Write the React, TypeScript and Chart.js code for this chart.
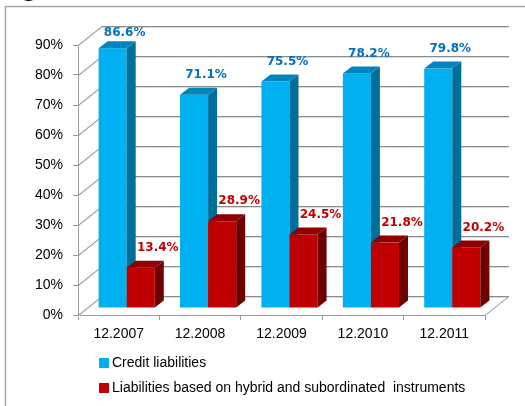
import React, { useEffect, useRef } from "react";
import { Chart, registerables } from "chart.js";

Chart.register(...registerables);

const categories = ["12.2007", "12.2008", "12.2009", "12.2010", "12.2011"];
const creditLiabilities = [0.866, 0.711, 0.755, 0.782, 0.798];
const hybridLiabilities = [0.134, 0.289, 0.245, 0.218, 0.202];
const seriesNames = [
  "Credit liabilities",
  "Liabilities based on hybrid and subordinated  instruments",
];
const yTicks = [0, 0.1, 0.2, 0.3, 0.4, 0.5, 0.6, 0.7, 0.8, 0.9];

const FRONT = ["#00B0F0", "#C00000"];
const SIDE = ["#006E9A", "#6E0000"];
const TOP = ["#0086BC", "#900000"];
const LABEL = ["#0070C0", "#C00000"];

const WALL_DX = 24;
const WALL_DY = -19;
const BAR_SHIFT_X = 8;
const BAR_SHIFT_Y = -7;
const BAR_DX = 9;
const BAR_DY = -7;
const TEXT_FONT = "'Liberation Sans', Arial, sans-serif";

function seg(ctx: any, x1: number, y1: number, x2: number, y2: number, color: string) {
  ctx.strokeStyle = color;
  ctx.lineWidth = 1;
  ctx.beginPath();
  ctx.moveTo(x1, y1);
  ctx.lineTo(x2, y2);
  ctx.stroke();
}

function drawWalls(chart: any) {
  const ctx = chart.ctx;
  const xs = chart.scales.x;
  const ys = chart.scales.y;
  const left = Number(xs.left);
  const right = Number(xs.right);
  ctx.save();
  for (let k = 0; k < yTicks.length; k++) {
    const y = Math.round(Number(ys.getPixelForValue(yTicks[k])));
    const by = y + WALL_DY;
    // back wall line (filled rectangles)
    ctx.fillStyle = "#DADADA";
    ctx.fillRect(left + WALL_DX, by + 1, right - left, 1);
    ctx.fillStyle = "#8C8C8C";
    ctx.fillRect(left + WALL_DX, by, right - left, 1);
    // side wall diagonal
    seg(ctx, left, y + 1.5, left + WALL_DX, by + 1.5, "#DADADA");
    seg(ctx, left, y + 0.5, left + WALL_DX, by + 0.5, "#8C8C8C");
  }
  const y0 = Math.round(Number(ys.getPixelForValue(0)));
  seg(ctx, right, y0 + 0.5, right + WALL_DX, y0 + WALL_DY + 0.5, "#8C8C8C");
  ctx.restore();
}

function drawBars(chart: any) {
  const ctx = chart.ctx;
  [0, 1].forEach((i) => {
    const meta = chart.getDatasetMeta(i);
    ctx.save();
    ctx.translate(BAR_SHIFT_X, BAR_SHIFT_Y);
    meta.data.forEach((el: any) => {
      const p = el.getProps(["x", "y", "base", "width"], true);
      const l = p.x - p.width / 2;
      const r = p.x + p.width / 2;
      const t = p.y;
      const b = p.base;
      ctx.fillStyle = FRONT[i];
      ctx.fillRect(l, t, r - l, b - t);
      ctx.fillStyle = SIDE[i];
      ctx.beginPath();
      ctx.moveTo(r, b);
      ctx.lineTo(r + BAR_DX, b + BAR_DY);
      ctx.lineTo(r + BAR_DX, t + BAR_DY);
      ctx.lineTo(r, t);
      ctx.closePath();
      ctx.fill();
      ctx.fillStyle = TOP[i];
      ctx.beginPath();
      ctx.moveTo(l, t);
      ctx.lineTo(l + BAR_DX, t + BAR_DY);
      ctx.lineTo(r + BAR_DX, t + BAR_DY);
      ctx.lineTo(r, t);
      ctx.closePath();
      ctx.fill();
    });
    ctx.restore();
  });
}

function drawLabelsAndLegend(chart: any) {
  const ctx = chart.ctx;
  ctx.save();
  ctx.font = "bold 12px 'DejaVu Sans', sans-serif";
  ctx.textAlign = "center";
  ctx.textBaseline = "middle";
  const top = chart.chartArea.top;
  [0, 1].forEach((i) => {
    const meta = chart.getDatasetMeta(i);
    const data = chart.data.datasets[i].data;
    meta.data.forEach((el: any, j: number) => {
      const p = el.getProps(["x", "y"], true);
      const x = p.x + BAR_SHIFT_X + (i === 0 ? 12 : 17);
      let y = p.y + BAR_SHIFT_Y - 20;
      if (y < top - 12) y = top - 12;
      ctx.fillStyle = LABEL[i];
      ctx.fillText((data[j] * 100).toFixed(1) + "%", x, y);
    });
  });
  ctx.font = "14px " + TEXT_FONT;
  ctx.textAlign = "left";
  ctx.textBaseline = "middle";
  const lx = chart.chartArea.left + 21;
  const ly = chart.chartArea.bottom + 48;
  seriesNames.forEach((name, i) => {
    const cy = ly + i * 25;
    ctx.fillStyle = FRONT[i];
    ctx.fillRect(lx, cy - 5, 10, 10);
    ctx.fillStyle = "#000";
    ctx.fillText(name, lx + 13, cy);
  });
  ctx.strokeStyle = "#A6A6A6";
  ctx.lineWidth = 1.5;
  ctx.beginPath();
  ctx.moveTo(5.5, chart.height);
  ctx.lineTo(5.5, 6.5);
  ctx.lineTo(chart.width, 6.5);
  ctx.stroke();
  ctx.fillStyle = "#000";
  ctx.font = "bold 22px 'DejaVu Sans', sans-serif";
  ctx.textBaseline = "alphabetic";
  ctx.textAlign = "left";
  ctx.fillText("g", 22, -3);
  ctx.restore();
}

const threeD = {
  id: "threeD",
  beforeDatasetsDraw() {
    return false;
  },
  afterDraw(chart: any) {
    drawWalls(chart);
    drawBars(chart);
    drawLabelsAndLegend(chart);
  },
};

export default function App() {
  const ref = useRef<HTMLCanvasElement>(null);
  useEffect(() => {
    document.body.style.margin = "0";
    const canvas = ref.current!;
    const chart = new Chart(canvas, {
      type: "bar",
      data: {
        labels: categories,
        datasets: [
          {
            label: seriesNames[0],
            data: creditLiabilities,
            backgroundColor: FRONT[0],
            categoryPercentage: 0.69,
            barPercentage: 1,
          },
          {
            label: seriesNames[1],
            data: hybridLiabilities,
            backgroundColor: FRONT[1],
            categoryPercentage: 0.69,
            barPercentage: 1,
          },
        ],
      },
      options: {
        animation: false,
        responsive: false,
        layout: { padding: { left: 0, right: 40, top: 45, bottom: 0 } },
        plugins: {
          legend: { display: false },
          tooltip: { enabled: false },
        },
        scales: {
          x: {
            grid: {
              display: true,
              drawOnChartArea: false,
              drawTicks: true,
              tickLength: 5,
              color: "#999999",
              offset: true,
            },
            border: { display: true, color: "#999999" },
            ticks: {
              color: "#000",
              font: { family: TEXT_FONT, size: 14 },
              padding: 6,
              maxRotation: 0,
            },
            afterFit: (s: any) => {
              s.height = 91;
            },
          },
          y: {
            min: 0,
            max: 0.9,
            grid: {
              display: true,
              drawOnChartArea: false,
              drawTicks: true,
              tickLength: 5,
              color: "#999999",
            },
            border: { display: true, color: "#999999" },
            ticks: {
              stepSize: 0.1,
              color: "#000",
              font: { family: TEXT_FONT, size: 14 },
              padding: 10,
              callback: (v: any) => Math.round(Number(v) * 100) + "%",
            },
            afterFit: (s: any) => {
              s.width = 78;
            },
          },
        },
      },
      plugins: [threeD],
    });
    return () => chart.destroy();
  }, []);
  return <canvas ref={ref} width={525} height={406} style={{ display: "block" }} />;
}
